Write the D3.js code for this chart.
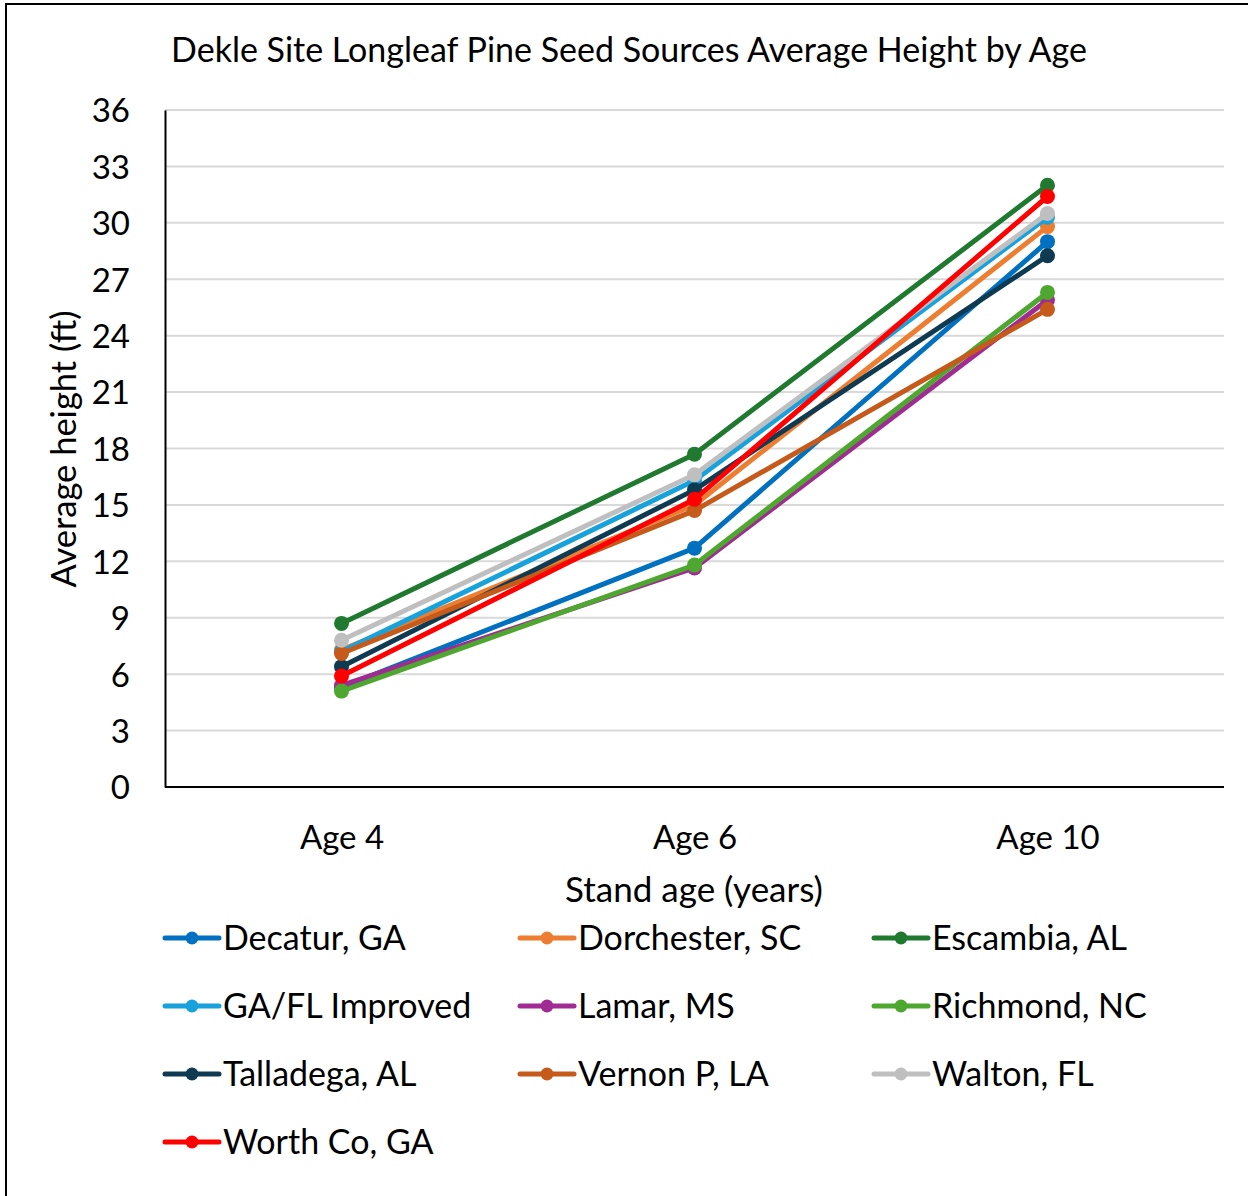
<!DOCTYPE html>
<html>
<head>
<meta charset="utf-8">
<script src="https://cdn.jsdelivr.net/npm/d3@7"></script>
<style>
  html, body { margin: 0; padding: 0; background: #fff; }
  svg { display: block; font-family: Lato, "Open Sans", sans-serif; }
</style>
</head>
<body>
<svg id="chart" width="1248" height="1196"></svg>
<script>
const categories = ["Age 4", "Age 6", "Age 10"];
const seriesNames = ["Decatur, GA", "Dorchester, SC", "Escambia, AL", "GA/FL Improved", "Lamar, MS", "Richmond, NC", "Talladega, AL", "Vernon P, LA", "Walton, FL", "Worth Co, GA"];
const decatur    = [5.3, 12.7, 29.0];
const dorchester = [7.3, 15.0, 29.8];
const escambia   = [8.7, 17.7, 32.0];
const gaflImproved = [7.2, 16.3, 30.3];
const lamar      = [5.4, 11.65, 25.9];
const richmond   = [5.1, 11.8, 26.3];
const talladega  = [6.4, 15.8, 28.25];
const vernon     = [7.1, 14.7, 25.4];
const walton     = [7.8, 16.6, 30.5];
const worth      = [5.9, 15.3, 31.4];
const seriesValues = [decatur, dorchester, escambia, gaflImproved, lamar, richmond, talladega, vernon, walton, worth];
const colors = ["#0070C0", "#ED7D31", "#1F7A30", "#17A2DC", "#A02B93", "#4EA72E", "#0E3A52", "#C55A1A", "#BFBFBF", "#FF0000"];
const yTicks = [0, 3, 6, 9, 12, 15, 18, 21, 24, 27, 30, 33, 36];

const svg = d3.select("#chart");
const plot = { left: 165, right: 1224, top: 110, bottom: 787 };

// outer border
svg.append("rect").attr("x", 6).attr("y", 4).attr("width", 1260).attr("height", 1220)
  .attr("fill", "none").attr("stroke", "#000").attr("stroke-width", 2);

const x = d3.scalePoint().domain(categories).range([plot.left, plot.right]).padding(0.5);
const y = d3.scaleLinear().domain([0, 36]).range([plot.bottom, plot.top]);

// gridlines
svg.append("g").selectAll("line").data(yTicks.filter(t => t > 0)).join("line")
  .attr("x1", plot.left).attr("x2", plot.right)
  .attr("y1", d => y(d)).attr("y2", d => y(d))
  .attr("stroke", "#d9d9d9").attr("stroke-width", 2);

// y axis
const yAxis = svg.append("g").attr("transform", `translate(${plot.left},0)`)
  .call(d3.axisLeft(y).tickValues(yTicks).tickSize(0).tickPadding(35));
yAxis.select(".domain").attr("stroke", "#000").attr("stroke-width", 2);
yAxis.selectAll("text").attr("font-size", 33).attr("fill", "#000").attr("font-family", "Lato").attr("dy", "0.36em");

// x axis
const xAxis = svg.append("g").attr("transform", `translate(0,${plot.bottom})`)
  .call(d3.axisBottom(x).tickSize(0).tickPadding(0));
xAxis.select(".domain").attr("d", `M${plot.left},0H${plot.right}`).attr("stroke", "#000").attr("stroke-width", 2);
xAxis.selectAll("text").attr("font-size", 33).attr("fill", "#000").attr("font-family", "Lato")
  .attr("y", 50).attr("dy", "0.36em");

// titles
svg.append("text").attr("x", 629).attr("y", 50).attr("text-anchor", "middle").attr("dy", "0.36em")
  .attr("font-size", 34).attr("fill", "#000").text("Dekle Site Longleaf Pine Seed Sources Average Height by Age");
svg.append("text").attr("x", 694).attr("y", 889).attr("text-anchor", "middle").attr("dy", "0.36em")
  .attr("font-size", 35).attr("fill", "#000").text("Stand age (years)");
svg.append("text").attr("transform", "translate(64,449) rotate(-90)").attr("text-anchor", "middle").attr("dy", "0.36em")
  .attr("font-size", 34.5).attr("fill", "#000").text("Average height (ft)");

// series
const line = d3.line().x((d, i) => x(categories[i])).y(d => y(d));
const series = seriesNames.map((name, i) => ({ name, values: seriesValues[i], color: colors[i] }));
const sg = svg.append("g").selectAll("g").data(series).join("g");
sg.append("path").attr("d", d => line(d.values)).attr("fill", "none")
  .attr("stroke", d => d.color).attr("stroke-width", 5).attr("stroke-linejoin", "round").attr("stroke-linecap", "round");
sg.selectAll("circle").data(d => d.values.map((v, i) => ({ v, i, color: d.color }))).join("circle")
  .attr("cx", d => x(categories[d.i])).attr("cy", d => y(d.v)).attr("r", 7.5).attr("fill", d => d.color);

// legend
const colX = [165, 520, 874];
const rowY = [938, 1006, 1074, 1142];
const lg = svg.append("g").selectAll("g").data(series).join("g")
  .attr("transform", (d, i) => `translate(${colX[i % 3]},${rowY[Math.floor(i / 3)]})`);
lg.append("line").attr("x1", 0).attr("x2", 54).attr("y1", 0).attr("y2", 0)
  .attr("stroke", d => d.color).attr("stroke-width", 5).attr("stroke-linecap", "round");
lg.append("circle").attr("cx", 27).attr("cy", 0).attr("r", 6.5).attr("fill", d => d.color);
lg.append("text").attr("x", 58).attr("y", 0).attr("dy", "0.36em")
  .attr("font-size", 34).attr("fill", "#000").text(d => d.name);
</script>
</body>
</html>
